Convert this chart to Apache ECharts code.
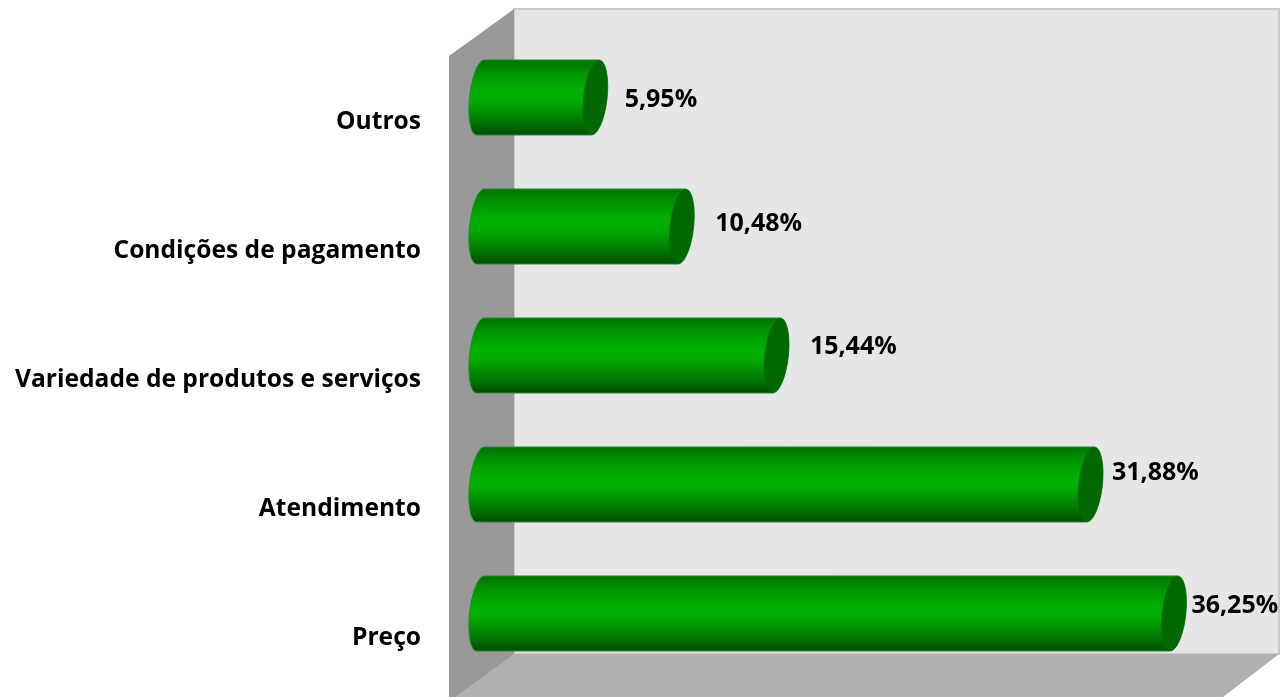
<!DOCTYPE html>
<html>
<head>
<meta charset="utf-8">
<style>
    html, body { margin: 0; padding: 0; background: #fff; }
    #chart { width: 1283px; height: 697px; }
</style>
<script src="https://cdn.jsdelivr.net/npm/echarts@6/dist/echarts.min.js"></script>
</head>
<body>
<div id="chart"></div>
<script>
    var categories = ['Preço', 'Atendimento', 'Variedade de produtos e serviços', 'Condições de pagamento', 'Outros'];
    var values = [36.25, 31.88, 15.44, 10.48, 5.95];

    // where each value label sits relative to the end of its bar
    var labelShift = [[5, -8], [9, -12], [21, -9], [21, -3], [17, 2]];

    var FONT = '"Open Sans", Lato, sans-serif';

    // half of a sheared ellipse, the cylinder ends lean a bit to the right at the top
    function arc(cx, cy, rx, ry, from, to) {
        var pts = [];
        for (var i = 0; i <= 24; i++) {
            var t = (from + (to - from) * i / 24) * Math.PI / 180;
            pts.push([cx + rx * Math.cos(t) - 3.75 * Math.sin(t), cy + ry * Math.sin(t)]);
        }
        return pts;
    }

    function renderBar(params, api) {
        var i = api.value(0);
        var v = api.value(1);
        var end = api.coord([v, i]);
        var start = api.coord([0, i]);
        var ry = api.size([0, 1])[1] * 0.2907;
        var cy = end[1];
        var cxL = start[0] - 13.5;
        var cxR = end[0] - 12.5;
        var body = arc(cxL, cy, 11, ry, 90, 270).concat(arc(cxR, cy, 12, ry, -90, 90));
        var shift = labelShift[params.dataIndex];
        return {
            type: 'group',
            children: [{
                type: 'polygon',
                shape: { points: body },
                style: {
                    fill: new echarts.graphic.LinearGradient(0, 0, 0, 1, [
                        { offset: 0, color: '#006f00' },
                        { offset: 0.12, color: '#008a00' },
                        { offset: 0.4, color: '#00b000' },
                        { offset: 0.55, color: '#00ac00' },
                        { offset: 0.85, color: '#007000' },
                        { offset: 1, color: '#004a00' }
                    ]),
                    stroke: '#1f9030',
                    lineWidth: 1
                }
            }, {
                type: 'polygon',
                shape: { points: arc(cxR, cy, 12, ry, 0, 360) },
                style: { fill: '#006800' }
            }, {
                type: 'text',
                style: {
                    text: v.toFixed(2).replace('.', ',') + '%',
                    x: end[0] + shift[0],
                    y: cy + shift[1],
                    verticalAlign: 'middle',
                    fill: '#000',
                    font: 'bold 25px ' + FONT
                }
            }]
        };
    }

    var chart = echarts.init(document.getElementById('chart'), null, { renderer: 'canvas' });
    chart.setOption({
        animation: false,
        backgroundColor: '#fff',
        grid: { left: 494, width: 764, top: 33, height: 645 },
        xAxis: { type: 'value', min: 0, max: 40, show: false },
        yAxis: {
            type: 'category',
            data: categories,
            axisLine: { show: false },
            axisTick: { show: false },
            splitLine: { show: false },
            axisLabel: {
                margin: 73,
                align: 'right',
                verticalAlign: 'top',
                lineHeight: 49,
                color: '#000',
                fontWeight: 'bold',
                fontFamily: FONT,
                fontSize: 24.6
            }
        },
        graphic: [{
            type: 'polygon', z: 0,
            shape: { points: [[514, 9], [1279, 9], [1279, 654], [514, 654]] },
            style: { fill: '#e6e6e6', stroke: '#c9c9c9', lineWidth: 2 }
        }, {
            type: 'polygon', z: 0,
            shape: { points: [[514, 654], [1279, 654], [1223, 697], [449, 697]] },
            style: { fill: '#b0b0b0' }
        }, {
            type: 'polygon', z: 0,
            shape: { points: [[449, 56], [514, 9], [514, 654], [455, 697], [449, 697]] },
            style: { fill: '#999999' }
        }],
        series: [{
            type: 'custom',
            z: 3,
            clip: false,
            encode: { x: 1, y: 0 },
            data: values.map(function (v, i) { return [i, v]; }),
            renderItem: renderBar
        }]
    });
</script>
</body>
</html>
